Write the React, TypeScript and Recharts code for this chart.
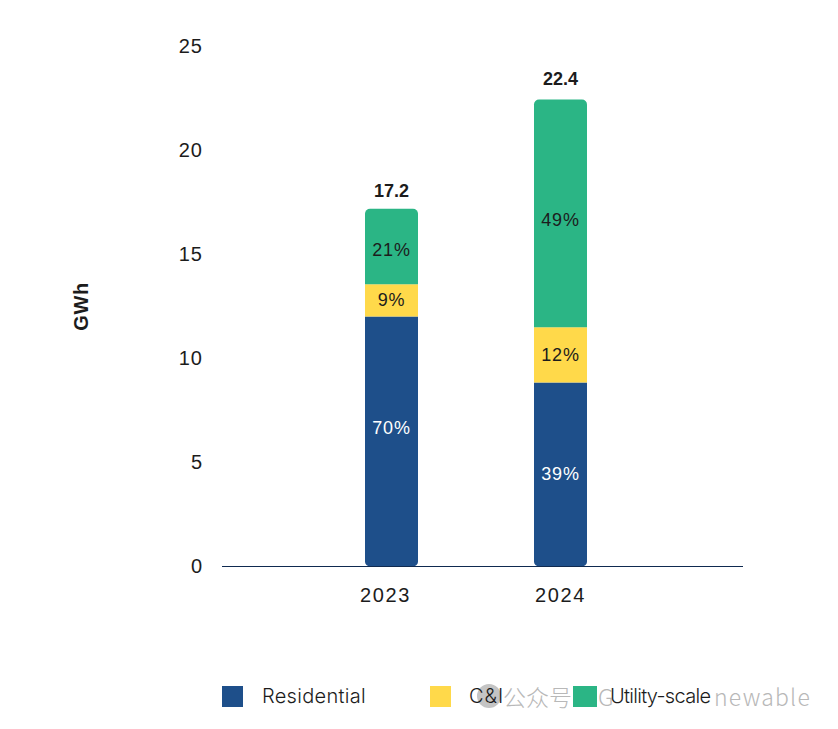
import { BarChart, Bar, XAxis, YAxis, LabelList } from 'recharts'

const YEARS = ['2023', '2024']
const RESIDENTIAL = [12.02, 8.85]
const CI = [1.55, 2.65]
const UTILITY = [3.63, 10.95]
const TOTALS = [17.2, 22.4]
const RESIDENTIAL_PCT = ['70%', '39%']
const CI_PCT = ['9%', '12%']
const UTILITY_PCT = ['21%', '49%']
const Y_TICKS = [0, 5, 10, 15, 20, 25]
const LEGEND_ITEMS = [
  { name: 'Residential', colour: '#1e4f8a', left: 222, width: 21, textLeft: 262, spacing: 0.3 },
  { name: 'C&I', colour: '#ffd94a', left: 430, width: 21, textLeft: 469, spacing: 1 },
  { name: 'Utility-scale', colour: '#2bb585', left: 573, width: 24, textLeft: 610, spacing: -0.7 },
]
// legible pieces of the grey stamp that runs across the legend
const STAMP_PIECES = [
  { text: '公众号', left: 503, size: 23, spacing: 0 },
  { text: 'G', left: 598, size: 23, spacing: 0 },
  { text: 'newable', left: 714, size: 23, spacing: 1.2 },
]

const FONT = '"Liberation Sans", Arial, sans-serif'
const LEGEND_FONT = 'Inter, sans-serif'
const INK = '#1c1c1c'

const data = YEARS.map((year, i) => ({
  year,
  residential: RESIDENTIAL[i],
  ci: CI[i],
  utility: UTILITY[i],
  total: TOTALS[i],
  residentialPct: RESIDENTIAL_PCT[i],
  ciPct: CI_PCT[i],
  utilityPct: UTILITY_PCT[i],
}))

// the 2023 label sits a little left of its bar in the original
const XTick = ({ x, y, payload }: any) => (
  <text
    x={x + (payload.value === '2023' ? -6 : 0)}
    y={y}
    dy={15}
    textAnchor="middle"
    fontFamily={FONT}
    fontSize={20}
    fill={INK}
    style={{ letterSpacing: 1.6 }}
  >
    {payload.value}
  </text>
)

// percent labels are not all dead centre in the original, so each bar gets its own nudge
const pctLabel = (fill: string, nudge: number[]) => ({ x, y, width, height, value, index }: any) => (
  <text
    x={x + width / 2}
    y={y + height / 2 + nudge[index]}
    dy={6}
    textAnchor="middle"
    fontFamily={FONT}
    fontSize={18}
    fill={fill}
    style={{ letterSpacing: 0.8 }}
  >
    {value}
  </text>
)

const totalLabel = ({ x, y, width, value, index }: any) => (
  <text
    x={x + width / 2}
    y={y + [-12, -15][index]}
    textAnchor="middle"
    fontFamily={FONT}
    fontSize={18}
    fontWeight={700}
    fill={INK}
  >
    {value}
  </text>
)

const LegendRow = () => (
  <div style={{ position: 'absolute', left: 0, top: 686, width: 838, height: 30, fontFamily: LEGEND_FONT, fontSize: 20, fontWeight: 300, color: INK }}>
    {STAMP_PIECES.map(piece => (
      <span
        key={piece.text}
        style={{
          position: 'absolute',
          left: piece.left,
          top: -3,
          lineHeight: '26px',
          fontFamily: '"Noto Sans CJK SC", "Noto Sans", sans-serif',
          fontSize: piece.size,
          letterSpacing: piece.spacing,
          color: '#b8b8b8',
          whiteSpace: 'nowrap',
        }}
      >
        {piece.text}
      </span>
    ))}
    <span style={{ position: 'absolute', left: 477, top: -2, width: 24, height: 24, borderRadius: 12, background: '#c4c4c4' }} />
    {LEGEND_ITEMS.map(item => (
      <div key={item.name}>
        <span
          style={{ position: 'absolute', left: item.left, top: 0, width: item.width, height: 21, background: item.colour }}
        />
        <span style={{ position: 'absolute', left: item.textLeft, top: -1, lineHeight: '22px', letterSpacing: item.spacing, whiteSpace: 'nowrap' }}>
          {item.name}
        </span>
      </div>
    ))}
  </div>
)

export default function App() {
  return (
    <div style={{ position: 'absolute', left: 0, top: 0, width: 838, height: 729, background: '#fff' }}>
      <BarChart
        width={838}
        height={729}
        data={data}
        margin={{ top: 46.5, right: 95, bottom: 122.5, left: 0 }}
        style={{ fontFamily: FONT }}
      >
        <XAxis
          dataKey="year"
          scale="point"
          padding={{ left: 169.5, right: 182.5 }}
          height={40}
          tickLine={false}
          tickSize={0}
          tickMargin={20}
          axisLine={{ stroke: '#0f2a50', strokeWidth: 1 }}
          tick={<XTick />}
        />
        <YAxis
          width={222}
          domain={[0, 25]}
          ticks={Y_TICKS}
          axisLine={false}
          tickLine={false}
          tickSize={0}
          tickMargin={19}
          dy={-1}
          tick={{ fontFamily: FONT, fontSize: 20, fill: INK, letterSpacing: 1 }}
          label={{
            value: 'GWh',
            angle: -90,
            position: 'center',
            dx: -30,
            style: { fontFamily: FONT, fontSize: 20, fontWeight: 700, letterSpacing: 0.6, fill: INK },
          }}
        />
        <Bar
          dataKey="residential"
          name="Residential"
          stackId="a"
          barSize={53}
          fill="#1e4f8a"
          radius={[0, 0, 5, 5]}
          isAnimationActive={false}
        >
          <LabelList dataKey="residentialPct" content={pctLabel('#ffffff', [-13, 0])} />
        </Bar>
        <Bar dataKey="ci" name="C&I" stackId="a" barSize={53} fill="#ffd94a" isAnimationActive={false}>
          <LabelList dataKey="ciPct" content={pctLabel(INK, [0, 0])} />
        </Bar>
        <Bar
          dataKey="utility"
          name="Utility-scale"
          stackId="a"
          barSize={53}
          fill="#2bb585"
          radius={[5, 5, 0, 0]}
          isAnimationActive={false}
        >
          <LabelList dataKey="utilityPct" content={pctLabel(INK, [4, 7])} />
          <LabelList dataKey="total" content={totalLabel} />
        </Bar>
      </BarChart>
      <LegendRow />
    </div>
  )
}
